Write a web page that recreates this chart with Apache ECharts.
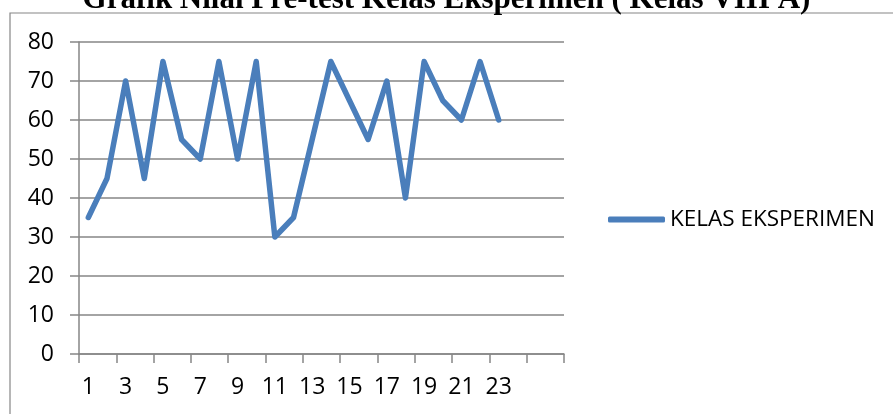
<!DOCTYPE html>
<html>
<head>
<meta charset="utf-8">
<script src="https://cdn.jsdelivr.net/npm/echarts@6/dist/echarts.min.js"></script>
<style>
	html, body { margin: 0; padding: 0; background: #fff; }
	#chart { width: 893px; height: 414px; }
</style>
</head>
<body>
<div id="chart"></div>
<script>
	// nilai pre-test tiap siswa (siswa ke-1 .. 23)
	var categories = ['1','2','3','4','5','6','7','8','9','10','11','12','13',
		'14','15','16','17','18','19','20','21','22','23','24','',''];
	var nilaiEksperimen = [35, 45, 70, 45, 75, 55, 50, 75, 50, 75, 30, 35, 55,
		75, 65, 55, 70, 40, 75, 65, 60, 75, 60];
	var seriesName = 'KELAS EKSPERIMEN';
	var judul = 'Grafik Nilai Pre-test Kelas Eksperimen ( Kelas VIII A)';

	var gray = '#868686';
	var blue = '#4a7ebb';
	var font = '"Open Sans", sans-serif';

	var myChart = echarts.init(document.getElementById('chart'));
	var option = {
		animation: false,
		title: {
			text: judul,
			left: 'center',
			top: -16,
			padding: 0,
			textStyle: {
				fontFamily: '"Liberation Serif", serif',
				fontWeight: 'bold',
				fontSize: 31,
				color: '#000'
			}
		},
		graphic: [{
			type: 'rect',
			shape: { x: 10, y: 13, width: 900, height: 420 },
			style: { fill: 'none', stroke: gray, lineWidth: 1.2 },
			silent: true
		}],
		legend: {
			data: [seriesName],
			left: 603,
			top: 203,
			itemWidth: 57,
			itemHeight: 6,
			icon: 'roundRect',
			textStyle: { fontFamily: font, fontSize: 22.5, color: '#000' }
		},
		grid: {
			left: 79,
			right: 329,
			top: 42,
			bottom: 60,
			containLabel: false
		},
		xAxis: {
			type: 'category',
			data: categories,
			boundaryGap: true,
			axisLine: { lineStyle: { color: gray, width: 1.5 } },
			axisTick: { show: true, length: 9, lineStyle: { color: gray, width: 1.5 } },
			axisLabel: {
				interval: 1,
				margin: 22,
				fontFamily: font,
				fontSize: 23,
				color: '#000'
			},
			splitLine: { show: false }
		},
		yAxis: {
			type: 'value',
			min: 0,
			max: 80,
			interval: 10,
			axisLine: { show: true, lineStyle: { color: gray, width: 1.5 } },
			axisTick: { show: true, length: 9, lineStyle: { color: gray, width: 1.5 } },
			axisLabel: {
				margin: 25,
				fontFamily: font,
				fontSize: 23,
				color: '#000'
			},
			splitLine: { lineStyle: { color: gray, width: 1.5 } }
		},
		series: [{
			name: seriesName,
			type: 'line',
			data: nilaiEksperimen,
			showSymbol: false,
			symbol: 'none',
			color: blue,
			lineStyle: { width: 5.5, color: blue, cap: 'round', join: 'round' }
		}]
	};
	myChart.setOption(option);
</script>
</body>
</html>
